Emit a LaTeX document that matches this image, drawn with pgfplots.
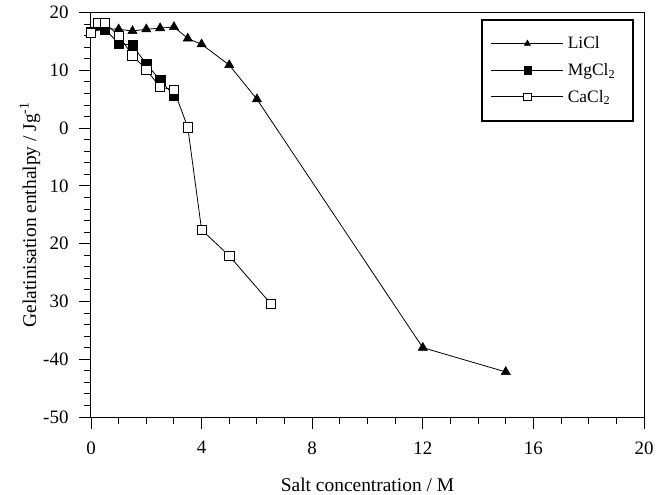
\documentclass[border=0pt]{standalone}
\usepackage{fontspec}
\setmainfont{Liberation Serif}
\usepackage{pgfplots}
\pgfplotsset{compat=1.18}
\begin{document}
\begin{tikzpicture}
\path[use as bounding box] (-91bp,-78bp) rectangle (572bp,417bp);
\begin{axis}[
  at={(0,0)}, anchor=south west,
  scale only axis, width=553bp, height=404.5bp,
  xmin=0, xmax=20, ymin=-50, ymax=20,
  xtick={0,4,...,20}, minor x tick num=3,
  ytick={-50,-40,...,20}, minor y tick num=4,
  yticklabels={-50,-40,30,20,10,0,10,20},
  xtick pos=bottom, ytick pos=left,
  tick align=outside,
  major tick length=12bp, minor tick length=7bp,
  every tick/.style={line width=0.9bp, black},
  axis line style={line width=1bp},
  /pgf/number format/assume math mode=true,
  ticklabel style={font=\fontsize{19}{22}\selectfont},
  xticklabel style={yshift=-9bp},
  yticklabel style={xshift=-7bp},
  xlabel={Salt concentration / M},
  ylabel={Gelatinisation enthalpy / Jg\textsuperscript{-1}},
  every axis x label/.style={at={(axis description cs:0.5,-0.168)}, anchor=center, font=\fontsize{19.5}{23}\selectfont},
  every axis y label/.style={at={(axis description cs:-0.1103,0.5)}, rotate=90, anchor=center, font=\fontsize{19.5}{23}\selectfont},
  legend cell align=left,
  legend image code/.code={\draw[line width=0.8bp, mark size=3.6bp, mark repeat=2, mark phase=2] plot coordinates {(0bp,0bp) (36bp,0bp) (72bp,0bp)};},
  legend style={at={(1,1)}, anchor=north east, xshift=-10bp, yshift=-6.5bp,
    draw=black, line width=1.8bp, font=\fontsize{17.5}{20}\selectfont,
    inner xsep=9bp, inner ysep=15bp, row sep=9bp,
    nodes={inner xsep=4bp}},
]
\addplot[black, line width=0.8bp, mark=triangle*, mark size=5.3bp, mark options={line width=0.5bp}] coordinates {
(0,16.6) (0.5,17.2) (1,17.1) (1.5,16.8) (2,17.1) (2.5,17.3) (3,17.5) (3.5,15.5) (4,14.5) (5,10.9) (6,5) (12,-38) (15,-42.2)};
\addlegendentry{LiCl}
\addplot[black, line width=0.8bp, mark=square*, mark size=4.7bp, mark options={line width=0.5bp}] coordinates {
(0,16.6) (0.25,18) (0.5,17.1) (1,14.7) (1.5,14.3) (2,11.1) (2.5,8.3) (3,5.6)};
\addlegendentry{MgCl\textsubscript{2}\hspace*{5bp}}
\addplot[black, line width=0.8bp, mark=square*, mark size=4.7bp, mark options={fill=white, line width=0.8bp}] coordinates {
(0,16.5) (0.25,18.2) (0.5,18.2) (1,16) (1.5,12.6) (2,10.1) (2.5,7.1) (3,6.6) (3.5,0.1) (4,-17.6) (5,-22.1) (6.5,-30.4)};
\addlegendentry{CaCl\textsubscript{2}}
\end{axis}
\end{tikzpicture}
\end{document}
